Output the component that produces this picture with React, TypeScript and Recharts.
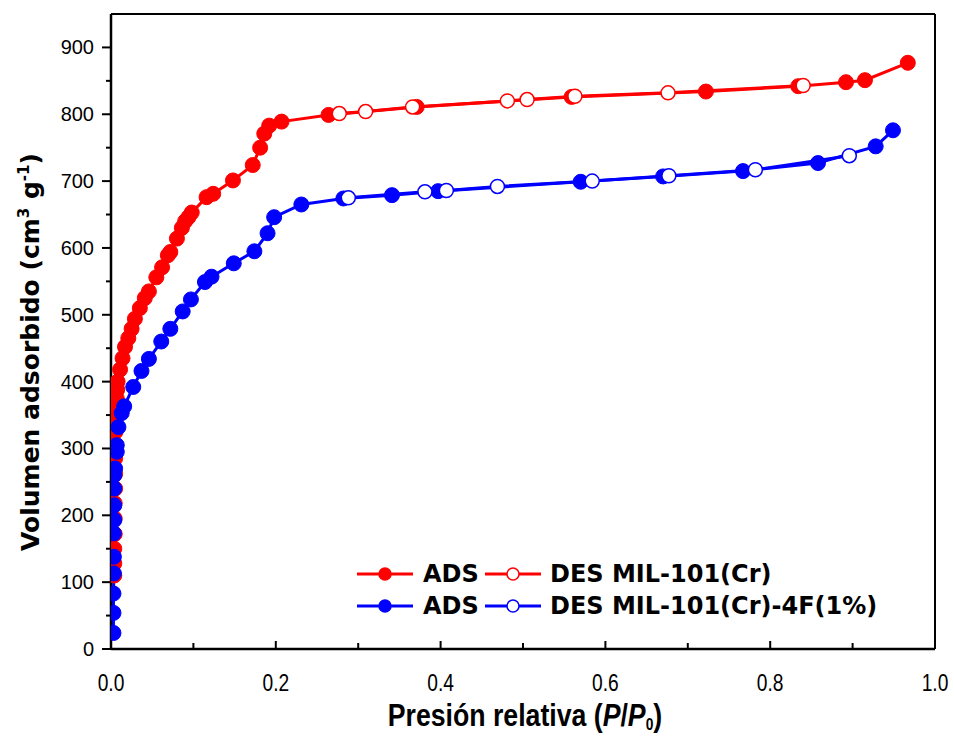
import React from 'react';
import { LineChart, Line, XAxis, YAxis, Legend } from 'recharts';

document.body.style.margin = '0';

// MIL-101(Cr) adsorption (filled red)
const redAdsP = [0.004, 0.004, 0.004, 0.0045, 0.0045, 0.0045, 0.005, 0.005, 0.005, 0.005, 0.0055, 0.006, 0.006, 0.007, 0.0075, 0.008, 0.011, 0.014, 0.017, 0.021, 0.025, 0.029, 0.035, 0.041, 0.046, 0.055, 0.062, 0.069, 0.072, 0.08, 0.086, 0.09, 0.094, 0.098, 0.116, 0.124, 0.148, 0.172, 0.181, 0.186, 0.192, 0.207, 0.264, 0.371, 0.559, 0.722, 0.834, 0.892, 0.915, 0.967];
const redAdsV = [110, 128, 150, 172, 195, 218, 240, 262, 285, 305, 325, 345, 362, 375, 388, 400, 418, 435, 452, 465, 479, 494, 510, 525, 535, 556, 571, 589, 594, 614, 630, 640, 646, 653, 676, 681, 701, 724, 750, 771, 783, 789, 799, 811, 826, 834, 842, 848, 851, 877];

// MIL-101(Cr) desorption (open red)
const redDesP = [0.277, 0.309, 0.366, 0.481, 0.505, 0.563, 0.676, 0.84];
const redDesV = [801, 804, 811, 820, 822, 827, 832, 843];

// MIL-101(Cr)-4F(1%) adsorption (filled blue)
const blueAdsP = [0.003, 0.003, 0.003, 0.0035, 0.0035, 0.0035, 0.004, 0.004, 0.004, 0.004, 0.005, 0.007, 0.007, 0.009, 0.013, 0.016, 0.027, 0.037, 0.046, 0.061, 0.072, 0.087, 0.097, 0.114, 0.122, 0.149, 0.174, 0.19, 0.198, 0.231, 0.282, 0.341, 0.397, 0.57, 0.67, 0.767, 0.858, 0.928, 0.949];
const blueAdsV = [24, 54, 83, 113, 138, 173, 193, 215, 240, 260, 270, 295, 305, 332, 353, 363, 392, 416, 434, 460, 479, 505, 523, 549, 557, 577, 595, 622, 646, 665, 674, 679, 685, 699, 707, 715, 727, 752, 776];

// MIL-101(Cr)-4F(1%) desorption (open blue)
const blueDesP = [0.288, 0.381, 0.407, 0.469, 0.584, 0.677, 0.782, 0.896];
const blueDesV = [675, 684, 686, 692, 700, 708, 717, 738];

const xTicks = [0, 0.1, 0.2, 0.3, 0.4, 0.5, 0.6, 0.7, 0.8, 0.9, 1.0];
const yTicks = [0, 50, 100, 150, 200, 250, 300, 350, 400, 450, 500, 550, 600, 650, 700, 750, 800, 850, 900];

const RED = '#FF0000';
const BLUE = '#0000FF';

const legendRows = [
  [
    { label: 'ADS', color: RED, open: false },
    { label: 'DES MIL-101(Cr)', color: RED, open: true },
  ],
  [
    { label: 'ADS', color: BLUE, open: false },
    { label: 'DES MIL-101(Cr)-4F(1%)', color: BLUE, open: true },
  ],
];

const toPoints = (p: number[], v: number[]) => p.map((x, i) => ({ p: x, v: v[i] }));

const redAds = toPoints(redAdsP, redAdsV);
const redDes = toPoints(redDesP, redDesV);
const blueAds = toPoints(blueAdsP, blueAdsV);
const blueDes = toPoints(blueDesP, blueDesV);

const isMajorX = (v: number) => Math.round(v * 10) % 2 === 0;

const BottomTick = (props: any) => {
  const { x, y, payload } = props;
  const v = payload.value;
  const major = isMajorX(v);
  return (
    <g>
      <line x1={x} y1={y} x2={x} y2={y - (major ? 8 : 6)} stroke="#000" strokeWidth={2} />
      {major && (
        <text
          transform={`translate(${x},${y + 42}) scale(0.8,1)`}
          textAnchor="middle"
          fontFamily="'Liberation Sans', Arial, sans-serif"
          fontSize={24}
          fill="#000"
        >
          {v.toFixed(1)}
        </text>
      )}
    </g>
  );
};

const TopTick = (props: any) => {
  const { x, y, payload } = props;
  const major = isMajorX(payload.value);
  return <line x1={x} y1={y} x2={x} y2={y + (major ? 9 : 5)} stroke="#000" strokeWidth={2} />;
};

const LeftTick = (props: any) => {
  const { x, y, payload } = props;
  const v = payload.value;
  const major = v % 100 === 0;
  return (
    <g>
      <line x1={x} y1={y} x2={x - (major ? 9 : 5)} y2={y} stroke="#000" strokeWidth={2} />
      {major && (
        <text
          x={x - 17}
          y={y + 7}
          textAnchor="end"
          fontFamily="'Liberation Sans', Arial, sans-serif"
          fontSize={20}
          fill="#000"
        >
          {v}
        </text>
      )}
    </g>
  );
};

const LegendIcon = ({ color, open }: { color: string; open: boolean }) => (
  <svg width={56} height={16} style={{ display: 'block' }}>
    <line x1={0} y1={8} x2={56} y2={8} stroke={color} strokeWidth={3} />
    <circle cx={28} cy={8} r={6} fill={open ? '#fff' : color} stroke={color} strokeWidth={1.5} />
  </svg>
);

const LegendBox = () => (
  <div style={{ fontFamily: "'DejaVu Sans', Verdana, sans-serif", fontWeight: 'bold', fontSize: 24, color: '#000' }}>
    {legendRows.map((row, ri) => (
      <div key={ri} style={{ display: 'flex', alignItems: 'center', height: 32 }}>
        <LegendIcon color={row[0].color} open={row[0].open} />
        <span style={{ marginLeft: 10, width: 62, lineHeight: '32px' }}>{row[0].label}</span>
        <LegendIcon color={row[1].color} open={row[1].open} />
        <span style={{ marginLeft: 9, lineHeight: '32px', whiteSpace: 'nowrap' }}>{row[1].label}</span>
      </div>
    ))}
  </div>
);

export default function App() {
  return (
    <div style={{ position: 'relative', width: 954, height: 737, background: '#fff', overflow: 'hidden' }}>
      <LineChart width={954} height={737} margin={{ top: 13, right: 18, bottom: 0, left: 11 }}>
        <XAxis
          dataKey="p"
          type="number"
          domain={[0, 1]}
          ticks={xTicks}
          interval={0}
          allowDataOverflow
          height={88}
          tickSize={0}
          tickMargin={0}
          tickLine={false}
          tick={<BottomTick />}
          axisLine={{ stroke: '#000', strokeWidth: 2.5 }}
        />
        <XAxis
          xAxisId="top"
          orientation="top"
          type="number"
          domain={[0, 1]}
          ticks={xTicks}
          interval={0}
          height={1}
          tickSize={0}
          tickMargin={0}
          tickLine={false}
          tick={<TopTick />}
          axisLine={{ stroke: '#000', strokeWidth: 2 }}
        />
        <YAxis
          dataKey="v"
          type="number"
          domain={[0, 950]}
          ticks={yTicks}
          interval={0}
          allowDataOverflow
          width={100}
          tickSize={0}
          tickMargin={0}
          tickLine={false}
          tick={<LeftTick />}
          axisLine={{ stroke: '#000', strokeWidth: 2.5 }}
        />
        <YAxis
          yAxisId="right"
          orientation="right"
          type="number"
          domain={[0, 950]}
          width={1}
          tick={false}
          tickLine={false}
          axisLine={{ stroke: '#000', strokeWidth: 2 }}
        />
        <Legend
          layout="horizontal"
          verticalAlign="middle"
          align="center"
          content={<LegendBox />}
          wrapperStyle={{ position: 'absolute', left: 357, top: 558, width: 'auto' }}
        />
        <Line
          data={redAds}
          dataKey="v"
          type="linear"
          stroke={RED}
          strokeWidth={3}
          dot={{ r: 7.5, fill: RED, stroke: RED, strokeWidth: 1 }}
          activeDot={false}
          isAnimationActive={false}
        />
        <Line
          data={redDes}
          dataKey="v"
          type="linear"
          stroke={RED}
          strokeWidth={3}
          dot={{ r: 7, fill: '#fff', stroke: RED, strokeWidth: 1.5 }}
          activeDot={false}
          isAnimationActive={false}
        />
        <Line
          data={blueAds}
          dataKey="v"
          type="linear"
          stroke={BLUE}
          strokeWidth={3}
          dot={{ r: 7.5, fill: BLUE, stroke: BLUE, strokeWidth: 1 }}
          activeDot={false}
          isAnimationActive={false}
        />
        <Line
          data={blueDes}
          dataKey="v"
          type="linear"
          stroke={BLUE}
          strokeWidth={3}
          dot={{ r: 7, fill: '#fff', stroke: BLUE, strokeWidth: 1.5 }}
          activeDot={false}
          isAnimationActive={false}
        />
      </LineChart>
      <div
        style={{
          position: 'absolute',
          left: 30,
          top: 352,
          transform: 'translate(-50%, -50%) rotate(-90deg)',
          whiteSpace: 'nowrap',
          fontFamily: "'DejaVu Sans', Verdana, sans-serif",
          fontWeight: 'bold',
          fontSize: 25,
          color: '#000',
        }}
      >
        Volumen adsorbido (cm<sup style={{ fontSize: 15 }}>3</sup> g<sup style={{ fontSize: 15 }}>-1</sup>)
      </div>
      <div
        style={{
          position: 'absolute',
          left: 525,
          top: 699,
          transform: 'translateX(-50%) scaleX(0.86)',
          whiteSpace: 'nowrap',
          fontFamily: "'Liberation Sans', Arial, sans-serif",
          fontWeight: 'bold',
          fontSize: 31,
          lineHeight: '34px',
          color: '#000',
        }}
      >
        Presión relativa (<i>P</i>/<i>P</i>
        <span style={{ fontSize: 16, lineHeight: 0, verticalAlign: '-4px' }}>0</span>)
      </div>
    </div>
  );
}
